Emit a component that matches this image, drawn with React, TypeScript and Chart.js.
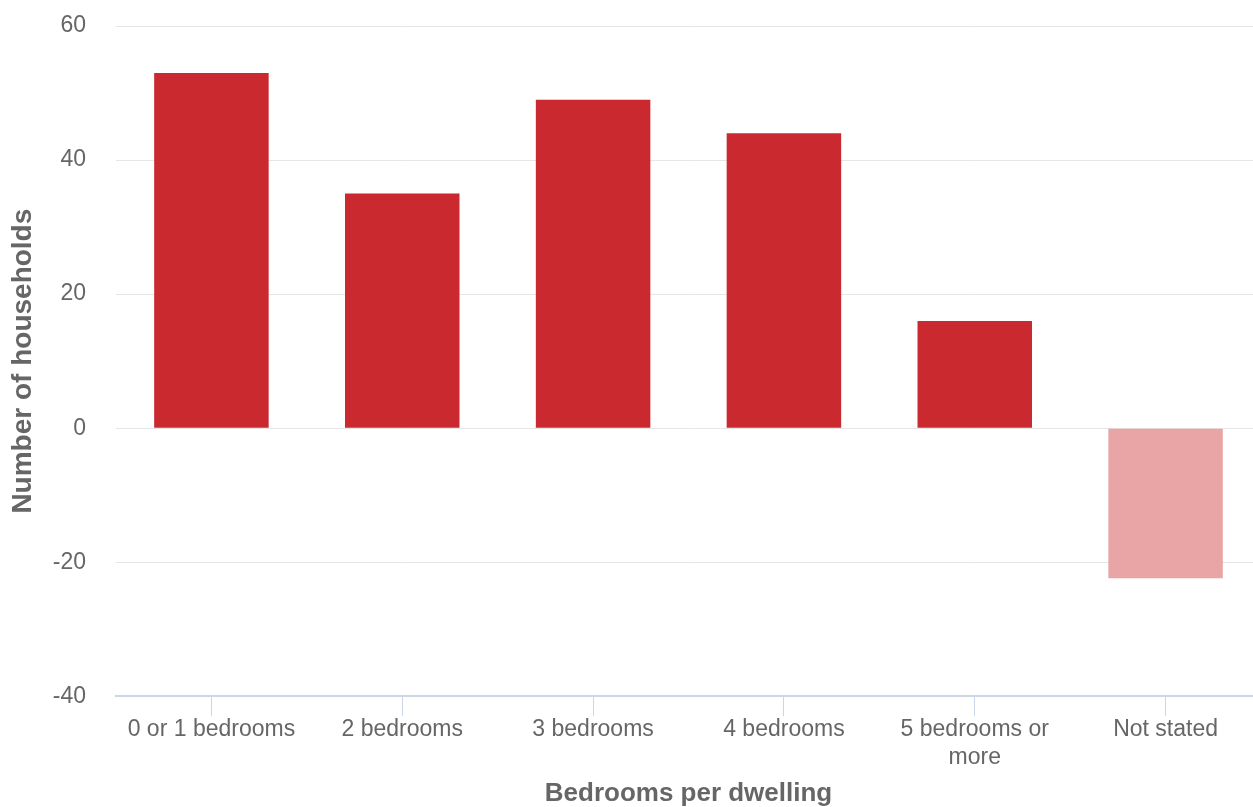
import React, { useEffect, useRef } from "react";
import { Chart, registerables } from "chart.js";

Chart.register(...registerables);

const categories: (string | string[])[] = [
  "0 or 1 bedrooms",
  "2 bedrooms",
  "3 bedrooms",
  "4 bedrooms",
  ["5 bedrooms or", "more"],
  "Not stated",
];
const households: number[] = [53, 35, 49, 44, 16, -22.4];
const yMin = -40;
const yMax = 60;
const yStep = 20;
const yTitle = "Number of households";
const xTitle = "Bedrooms per dwelling";

const FONT = "'Liberation Sans', Arial, Helvetica, sans-serif";

export default function App() {
  const ref = useRef<HTMLCanvasElement | null>(null);
  useEffect(() => {
    document.body.style.margin = "0";
    document.body.style.overflow = "hidden";
    const canvas = ref.current;
    if (!canvas) return;
    const chart = new Chart(canvas, {
      type: "bar",
      data: {
        labels: categories,
        datasets: [
          {
            data: households,
            backgroundColor: (ctx: any) =>
              ctx.raw < 0 ? "#e9a5a6" : "#c9292f",
            borderWidth: 0,
            barPercentage: 0.6,
            categoryPercentage: 1,
          },
        ],
      },
      options: {
        animation: false,
        responsive: false,
        maintainAspectRatio: false,
        layout: { padding: { top: 26, left: 6, right: 0, bottom: 0 } },
        plugins: { legend: { display: false }, tooltip: { enabled: false } },
        scales: {
          x: {
            grid: {
              display: true,
              drawOnChartArea: false,
              drawTicks: true,
              tickLength: 20,
              color: "#ccd6eb",
              offset: false,
            },
            border: { display: true, color: "#ccd6eb", width: 2 },
            ticks: {
              color: "#666666",
              font: { family: FONT, size: 23, lineHeight: 1.2 },
              padding: 0,
              autoSkip: false,
              maxRotation: 0,
              minRotation: 0,
            },
            title: {
              display: true,
              text: xTitle,
              color: "#666666",
              font: { family: FONT, size: 26, weight: "bold", lineHeight: 1.0 },
              padding: { top: 9.5, bottom: 0 },
            },
          },
          y: {
            min: yMin,
            max: yMax,
            afterFit: (scale: any) => {
              scale.width = 110;
              scale.paddingTop = 0;
              scale.paddingBottom = 0;
            },
            grid: { color: "#e6e6e6", drawTicks: false, lineWidth: 1 },
            border: { display: false },
            ticks: {
              stepSize: yStep,
              color: "#666666",
              font: { family: FONT, size: 23 },
              padding: 30,
            },
            title: {
              display: true,
              text: yTitle,
              color: "#666666",
              font: { family: FONT, size: 28, weight: "bold", lineHeight: 1.2 },
              padding: { top: 0, bottom: 14 },
            },
          },
        },
      },
    });
    return () => chart.destroy();
  }, []);
  return (
    <div style={{ width: 1261, height: 807, overflow: "hidden" }}>
      <canvas ref={ref} width={1261} height={807} style={{ display: "block" }} />
    </div>
  );
}
